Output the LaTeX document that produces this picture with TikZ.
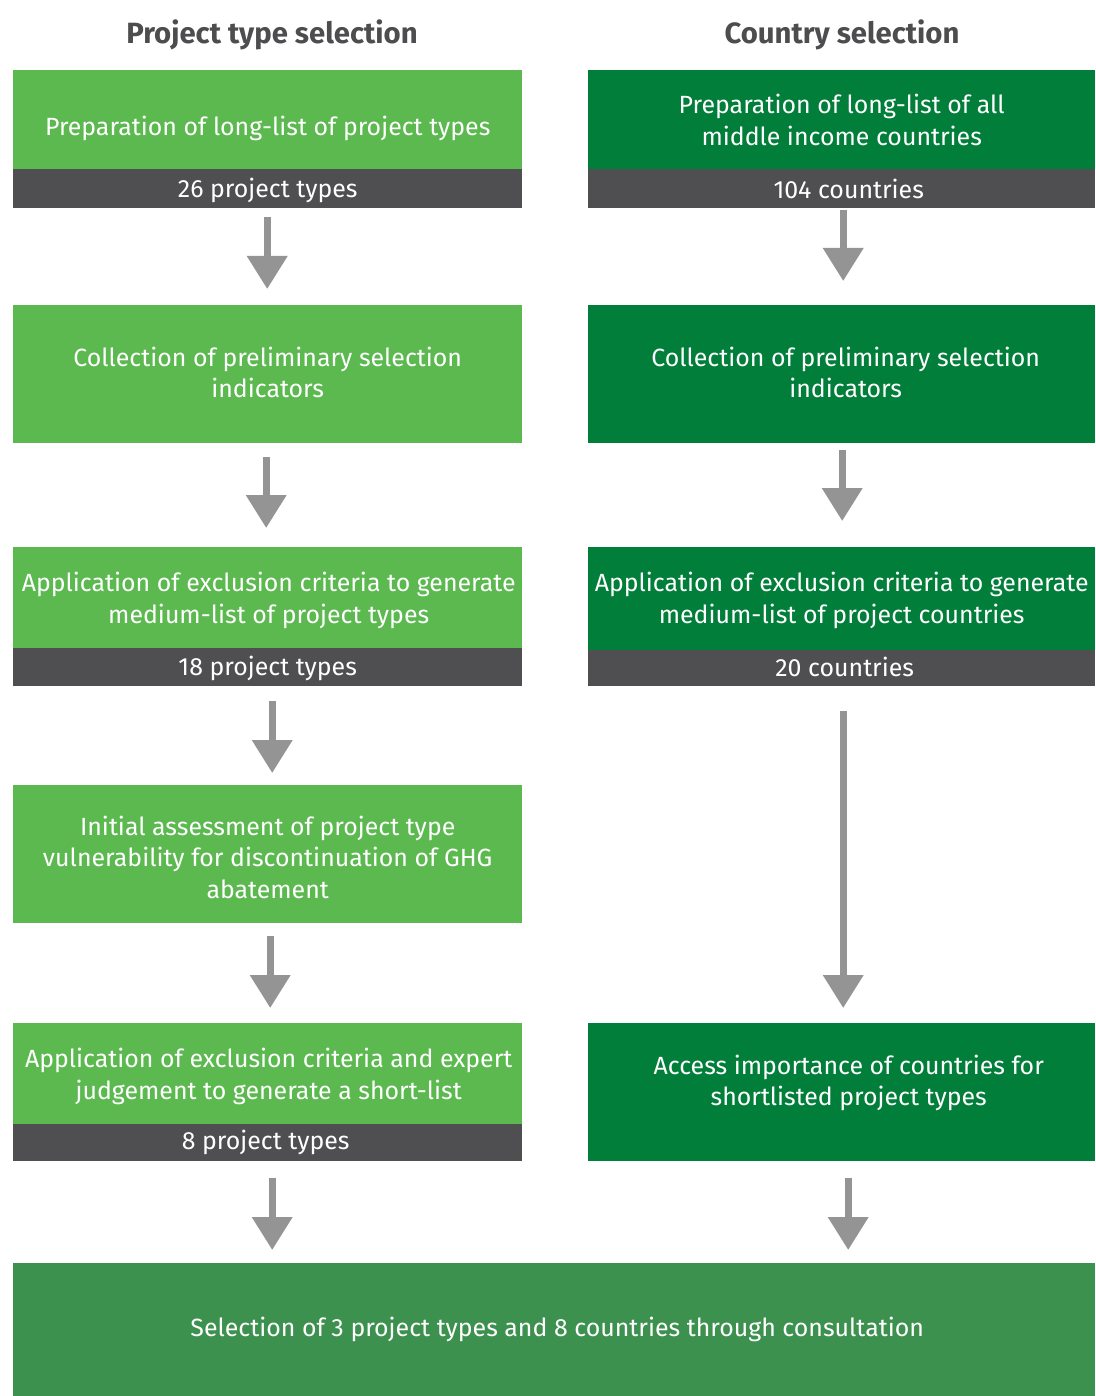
\documentclass[tikz,border=0pt]{standalone}
\usepackage{fontspec}
\setmainfont{Fira Sans}
\usetikzlibrary{arrows.meta}
\definecolor{lgreen}{HTML}{5BB94F}
\definecolor{dgreen}{HTML}{007E3A}
\definecolor{barc}{HTML}{4F4F51}
\definecolor{botc}{HTML}{3D914F}
\definecolor{arrc}{HTML}{949494}
\definecolor{titc}{HTML}{4D4D4F}
\tikzset{
  box/.style={anchor=north west, inner sep=0pt},
  lbox/.style={box, fill=lgreen, minimum width=509pt},
  rbox/.style={box, fill=dgreen, minimum width=507pt},
  lbar/.style={box, fill=barc, minimum width=509pt},
  rbar/.style={box, fill=barc, minimum width=507pt},
  txt/.style={inner sep=0pt, align=center, text=white, font=\fontsize{24.9}{31.5}\selectfont},
  title/.style={font=\fontsize{29.3}{34}\selectfont\bfseries, text=titc, inner sep=0pt},
  arr/.style={draw=arrc, line width=7pt, -{Triangle[width=39pt,length=33pt]}, fill=arrc}
}
\begin{document}
\begin{tikzpicture}[x=1pt,y=-1pt]
\useasboundingbox[fill=white] (0,0) rectangle (1095,1396);
% titles
\node[title] (t1) at (272,35) {Project type selection};
\node[title] (t2) at (842,35) {Country selection};
% left column boxes
\node[lbox, minimum height=99pt] (l1) at (13,70) {};
\node[lbar, minimum height=39pt] (l1b) at (13,169) {};
\node[lbox, minimum height=138pt] (l2) at (13,305) {};
\node[lbox, minimum height=101pt] (l3) at (13,547) {};
\node[lbar, minimum height=38pt] (l3b) at (13,648) {};
\node[lbox, minimum height=138pt] (l4) at (13,785) {};
\node[lbox, minimum height=101pt] (l5) at (13,1023) {};
\node[lbar, minimum height=37pt] (l5b) at (13,1124) {};
% right column boxes
\node[rbox, minimum height=99pt] (r1) at (588,70) {};
\node[rbar, minimum height=39pt] (r1b) at (588,169) {};
\node[rbox, minimum height=138pt] (r2) at (588,305) {};
\node[rbox, minimum height=103pt] (r3) at (588,547) {};
\node[rbar, minimum height=36pt] (r3b) at (588,650) {};
\node[rbox, minimum height=138pt] (r5) at (588,1023) {};
\node[box, fill=botc, minimum width=1082pt, minimum height=133pt] (bot) at (13,1263) {};
% texts
\node[txt, yshift=-9pt] (l1t) at (l1.center) {Preparation of long-list of project types};
\node[txt, yshift=-2pt] (l1bt) at (l1b.center) {26 project types};
\node[txt, yshift=2pt] (l2t) at (l2.center) {Collection of preliminary selection\\indicators};
\node[txt, yshift=-2.5pt, xshift=1pt] (l3t) at (l3.center) {Application of exclusion criteria to generate\\medium-list of project types};
\node[txt, yshift=-1pt] (l3bt) at (l3b.center) {18 project types};
\node[txt, yshift=-3pt] (l4t) at (l4.center) {Initial assessment of project type\\vulnerability for discontinuation of GHG\\abatement};
\node[txt, yshift=-2.5pt, xshift=1pt] (l5t) at (l5.center) {Application of exclusion criteria and expert\\judgement to generate a short-list};
\node[txt, xshift=-2pt] (l5bt) at (l5b.center) {8 project types};
\node[txt] (r1t) at (r1.center) {Preparation of long-list of all\\middle income countries};
\node[txt, xshift=7pt] (r1bt) at (r1b.center) {104 countries};
\node[txt, yshift=2pt, xshift=4pt] (r2t) at (r2.center) {Collection of preliminary selection\\indicators};
\node[txt, yshift=-1.5pt] (r3t) at (r3.center) {Application of exclusion criteria to generate\\medium-list of project countries};
\node[txt, yshift=1pt, xshift=3pt] (r3bt) at (r3b.center) {20 countries};
\node[txt, yshift=9.5pt, xshift=7pt] (r5t) at (r5.center) {Access importance of countries for\\shortlisted project types};
\node[txt, xshift=3pt] (bott) at (bot.center) {Selection of 3 project types and 8 countries through consultation};
% arrows left
\draw[arr, shorten <=9pt, shorten >=16pt] ([xshift=-0.5pt]l1b.south) -- ([xshift=-0.5pt]l2.north);
\draw[arr, shorten <=14pt, shorten >=19pt] ([xshift=-1.5pt]l2.south) -- ([xshift=-1.5pt]l3.north);
\draw[arr, shorten <=15pt, shorten >=12pt] ([xshift=4.5pt]l3b.south) -- ([xshift=4.5pt]l4.north);
\draw[arr, shorten <=13pt, shorten >=15pt] ([xshift=2.5pt]l4.south) -- ([xshift=2.5pt]l5.north);
\draw[arr, shorten <=17pt, shorten >=13pt] ([xshift=4.5pt]l5b.south) -- ([xshift=4.5pt]l5b.south |- bot.north);
% arrows right
\draw[arr, shorten <=2pt, shorten >=24pt] ([xshift=1.5pt]r1b.south) -- ([xshift=1.5pt]r2.north);
\draw[arr, shorten <=7pt, shorten >=26pt] ([xshift=0.5pt]r2.south) -- ([xshift=0.5pt]r3.north);
\draw[arr, shorten <=25pt, shorten >=15pt] ([xshift=1.5pt]r3b.south) -- ([xshift=1.5pt]r5.north);
\draw[arr, shorten <=17pt, shorten >=13pt] ([xshift=6.5pt]r5.south) -- ([xshift=6.5pt]r5.south |- bot.north);
\end{tikzpicture}
\end{document}
